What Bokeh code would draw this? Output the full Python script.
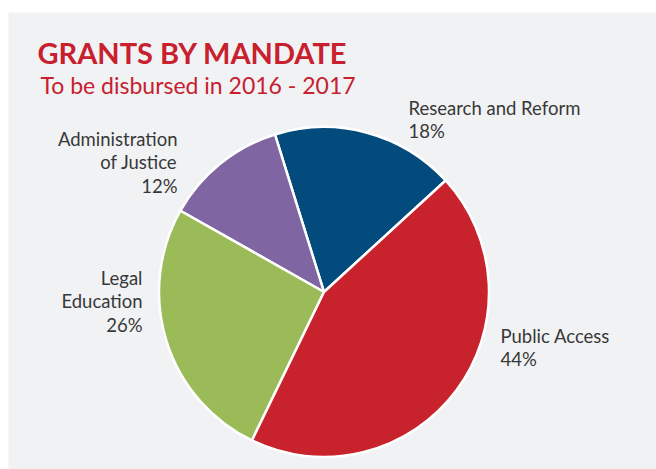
import math
from bokeh.plotting import figure
from bokeh.models import Range1d, ColumnDataSource
from bokeh.core.properties import value
from bokeh.embed import file_html
from bokeh.resources import INLINE

# ---- data ----
categories = ["Research and Reform", "Administration of Justice", "Legal Education", "Public Access"]
display_labels = ["Research and Reform", "Administration\nof Justice", "Legal\nEducation", "Public Access"]
percents = [18, 12, 26, 44]
colors = ["#024b7c", "#7f65a2", "#9bbb59", "#c8232c"]

title_text = "GRANTS BY MANDATE"
subtitle_text = "To be disbursed in 2016 - 2017"

# ---- layout ----
W, H = 656, 469
TOP, LEFT = 12, 8
FW, FH = W - LEFT, H - TOP
cx, cy, R = 315.5, 177.5, 165
start_deg = 42.5

p = figure(width=W, height=H, output_backend="svg", toolbar_location=None,
           x_range=Range1d(0, FW), y_range=Range1d(0, FH),
           min_border_left=LEFT, min_border_right=0, min_border_bottom=0, min_border_top=TOP)
p.axis.visible = False
p.grid.visible = False
p.outline_line_color = None
p.background_fill_color = "#f1f2f4"
p.border_fill_color = "white"

total = sum(percents)
starts, ends = [], []
acc = math.radians(start_deg)
for v in percents:
    starts.append(acc)
    acc += v / total * 2 * math.pi
    ends.append(acc)

src = ColumnDataSource(dict(start=starts, end=ends, color=colors, cat=categories))
p.wedge(x=cx, y=cy, radius=R, start_angle="start", end_angle="end",
        fill_color="color", line_color="white", line_width=2.5, source=src)

# label blocks (anchor x, middle y, align)
label_x = [400, 169, 134, 492]
label_y = [350, 307, 168, 122]
label_align = ["left", "right", "right", "left"]
texts = [f"{d}\n{v}%" for d, v in zip(display_labels, percents)]
lsrc = ColumnDataSource(dict(x=label_x, y=label_y, t=texts, a=label_align))
p.text(x="x", y="y", text="t", text_align="a", text_baseline="middle",
       text_font=value("Lato"), text_font_size="18.5px", text_color="#383838",
       text_line_height=1.07, source=lsrc)

p.text(x=[29], y=[417], text=[title_text], text_font=value("Lato"), text_font_style="bold",
       text_font_size="29px", text_color="#c8202e", text_baseline="alphabetic")
p.text(x=[32], y=[385], text=[subtitle_text], text_font=value("Lato"),
       text_font_size="23px", text_color="#c8202e", text_baseline="alphabetic")

open("out.html", "w").write(file_html(p, INLINE))
